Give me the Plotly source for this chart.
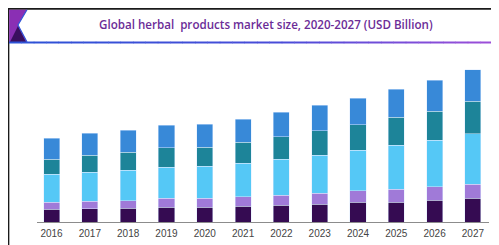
import plotly.graph_objects as go

years = ["2016", "2017", "2018", "2019", "2020", "2021", "2022", "2023", "2024", "2025", "2026", "2027"]
seg_names = ["Segment A", "Segment B", "Segment C", "Segment D", "Segment E"]
seg_a = [12.7, 13.3, 14.0, 14.7, 15.0, 15.7, 17.0, 18.0, 19.7, 20.0, 22.0, 23.7]
seg_b = [7.0, 7.4, 7.3, 9.0, 9.0, 9.6, 10.0, 10.7, 11.6, 13.0, 13.3, 14.3]
seg_c = [28.0, 29.3, 30.4, 31.3, 32.0, 33.7, 36.0, 38.0, 40.4, 43.7, 46.7, 50.3]
seg_d = [15.3, 17.0, 18.0, 19.3, 19.0, 20.7, 22.3, 24.6, 25.6, 28.0, 29.0, 32.6]
seg_e = [21.0, 22.0, 22.0, 22.7, 22.7, 23.3, 24.4, 25.7, 26.4, 28.0, 31.0, 31.4]
colors = ["#350b52", "#a07ad8", "#55c8f6", "#1d8499", "#3889d8"]
title_text = "Global herbal\u00a0\u00a0products market size, 2020-2027 (USD Billion)"

OFF = 8  # page body margin
W, H = 491, 237
ML, MR, MT, MB = 29, 10, 42, 23
PW, PH = W - ML - MR, H - MT - MB


def px(x):
    return (x - OFF - ML) / PW


def py(y):
    return (H - MB - (y - OFF)) / PH


fig = go.Figure()
for name, vals, col in zip(seg_names, [seg_a, seg_b, seg_c, seg_d, seg_e], colors):
    fig.add_trace(go.Bar(x=years, y=vals, name=name,
                         marker=dict(color=col, line=dict(width=0.6, color="rgba(220,235,255,0.8)"))))

shapes = []
# frame
shapes.append(dict(type="line", xref="paper", yref="paper", x0=px(8.6), x1=px(8.6), y0=py(7.5), y1=py(250),
                   line=dict(color="#1a1a1a", width=1.5)))
shapes.append(dict(type="line", xref="paper", yref="paper", x0=px(7.8), x1=px(505), y0=py(8.8), y1=py(8.8),
                   line=dict(color="#1a1a1a", width=2)))


def path(pts):
    return "M " + " L ".join(f"{px(a)},{py(b)}" for a, b in pts) + " Z"


shapes.append(dict(type="path", xref="paper", yref="paper",
                   path=path([(9.2, 9.8), (27, 9.8), (18, 25), (27, 42), (9.2, 42)]),
                   fillcolor="#8a2fb4", line=dict(width=0)))
shapes.append(dict(type="path", xref="paper", yref="paper", path=path([(10, 42), (26, 42), (18, 26)]),
                   fillcolor="#3a0f5e", line=dict(width=0)))
shapes.append(dict(type="path", xref="paper", yref="paper",
                   path=f"M {px(27)},{py(9.8)} L {px(18)},{py(25)} L {px(27)},{py(42)}",
                   line=dict(color="#2f55d8", width=1.2)))


def lerp(c1, c2, t):
    return "#" + "".join(
        f"{round(int(c1[i:i+2], 16) + (int(c2[i:i+2], 16) - int(c1[i:i+2], 16)) * t):02x}" for i in (1, 3, 5))


n = 40
x_start, x_end = 9, 505
for i in range(n):
    xa = x_start + (x_end - x_start) * i / n
    xb = x_start + (x_end - x_start) * (i + 1) / n
    t = (i + 0.5) / n
    if t < 0.55:
        c = lerp("#2c52d6", "#4a4cd8", t / 0.55)
    else:
        c = lerp("#4a4cd8", "#a24ed8", (t - 0.55) / 0.45)
    shapes.append(dict(type="line", xref="paper", yref="paper", x0=px(xa), x1=px(xb) + 0.001,
                       y0=py(42.5), y1=py(42.5), line=dict(color=c, width=2)))

fig.update_layout(
    width=W, height=H,
    margin=dict(l=ML, r=MR, t=MT, b=MB, pad=0),
    barmode="stack", bargap=0.58,
    showlegend=False,
    paper_bgcolor="white", plot_bgcolor="white",
    shapes=shapes,
    annotations=[dict(text=title_text, xref="paper", yref="paper", x=px(266), y=py(25), showarrow=False,
                      xanchor="center", yanchor="middle",
                      font=dict(family="Open Sans", size=11.6, color="#6b2c97", weight=600))],
    xaxis=dict(type="category", range=[-0.38, 11.42], showline=True, linecolor="#8c8c8c", linewidth=1,
               showgrid=False, ticks="", ticklabelstandoff=2, automargin=False,
               tickfont=dict(family="Liberation Sans", size=10, color="#444444"),
               fixedrange=True),
    yaxis=dict(range=[0, PH], visible=False, showgrid=False, zeroline=False, fixedrange=True,
               automargin=False),
)

fig.write_html("out.html")
